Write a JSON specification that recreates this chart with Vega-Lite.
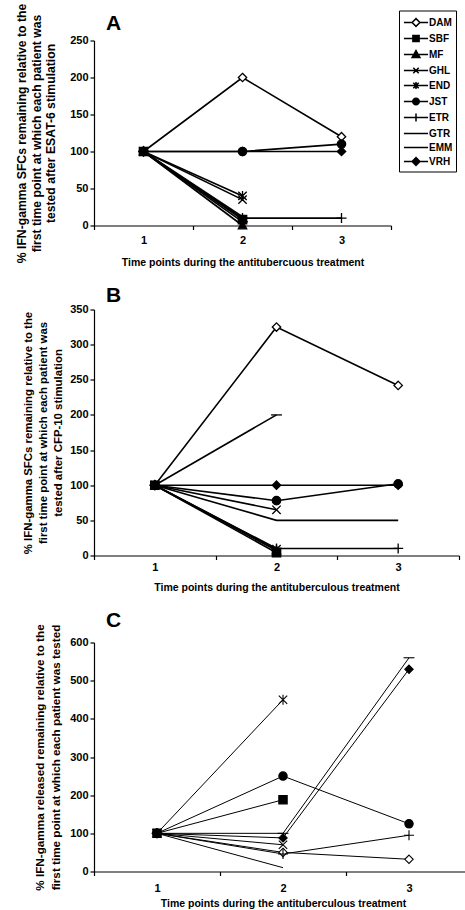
{
  "$schema": "https://vega.github.io/schema/vega-lite/v6.json",
  "padding": {"left": 15, "top": 2.5, "right": 0, "bottom": 0},
  "spacing": 16,
  "datasets": {
    "rows": [
      {"panel": "A", "series": "DAM", "t": 1, "v": 100}, {"panel": "A", "series": "DAM", "t": 2, "v": 200}, {"panel": "A", "series": "DAM", "t": 3, "v": 120},
      {"panel": "A", "series": "SBF", "t": 1, "v": 100}, {"panel": "A", "series": "SBF", "t": 2, "v": 8},
      {"panel": "A", "series": "MF", "t": 1, "v": 100}, {"panel": "A", "series": "MF", "t": 2, "v": 0},
      {"panel": "A", "series": "GHL", "t": 1, "v": 100}, {"panel": "A", "series": "GHL", "t": 2, "v": 35},
      {"panel": "A", "series": "END", "t": 1, "v": 100}, {"panel": "A", "series": "END", "t": 2, "v": 40},
      {"panel": "A", "series": "JST", "t": 1, "v": 100}, {"panel": "A", "series": "JST", "t": 2, "v": 100}, {"panel": "A", "series": "JST", "t": 3, "v": 110},
      {"panel": "A", "series": "ETR", "t": 1, "v": 100}, {"panel": "A", "series": "ETR", "t": 2, "v": 10}, {"panel": "A", "series": "ETR", "t": 3, "v": 10},
      {"panel": "A", "series": "GTR", "t": 1, "v": 100}, {"panel": "A", "series": "GTR", "t": 2, "v": 5},
      {"panel": "A", "series": "EMM", "t": 1, "v": 100}, {"panel": "A", "series": "EMM", "t": 2, "v": 12},
      {"panel": "A", "series": "VRH", "t": 1, "v": 100}, {"panel": "A", "series": "VRH", "t": 2, "v": 100}, {"panel": "A", "series": "VRH", "t": 3, "v": 100},

      {"panel": "B", "series": "DAM", "t": 1, "v": 100}, {"panel": "B", "series": "DAM", "t": 2, "v": 325}, {"panel": "B", "series": "DAM", "t": 3, "v": 242},
      {"panel": "B", "series": "SBF", "t": 1, "v": 100}, {"panel": "B", "series": "SBF", "t": 2, "v": 4},
      {"panel": "B", "series": "MF", "t": 1, "v": 100}, {"panel": "B", "series": "MF", "t": 2, "v": 7},
      {"panel": "B", "series": "GHL", "t": 1, "v": 100}, {"panel": "B", "series": "GHL", "t": 2, "v": 65},
      {"panel": "B", "series": "END", "t": 1, "v": 100}, {"panel": "B", "series": "END", "t": 2, "v": 9},
      {"panel": "B", "series": "JST", "t": 1, "v": 100}, {"panel": "B", "series": "JST", "t": 2, "v": 78}, {"panel": "B", "series": "JST", "t": 3, "v": 102},
      {"panel": "B", "series": "ETR", "t": 1, "v": 100}, {"panel": "B", "series": "ETR", "t": 2, "v": 10}, {"panel": "B", "series": "ETR", "t": 3, "v": 10},
      {"panel": "B", "series": "GTR", "t": 1, "v": 100}, {"panel": "B", "series": "GTR", "t": 2, "v": 200},
      {"panel": "B", "series": "EMM", "t": 1, "v": 100}, {"panel": "B", "series": "EMM", "t": 2, "v": 50}, {"panel": "B", "series": "EMM", "t": 3, "v": 50},
      {"panel": "B", "series": "VRH", "t": 1, "v": 100}, {"panel": "B", "series": "VRH", "t": 2, "v": 100}, {"panel": "B", "series": "VRH", "t": 3, "v": 100},

      {"panel": "C", "series": "DAM", "t": 1, "v": 100}, {"panel": "C", "series": "DAM", "t": 2, "v": 50}, {"panel": "C", "series": "DAM", "t": 3, "v": 32},
      {"panel": "C", "series": "SBF", "t": 1, "v": 100}, {"panel": "C", "series": "SBF", "t": 2, "v": 188},
      {"panel": "C", "series": "GHL", "t": 1, "v": 100}, {"panel": "C", "series": "GHL", "t": 2, "v": 70},
      {"panel": "C", "series": "END", "t": 1, "v": 100}, {"panel": "C", "series": "END", "t": 2, "v": 450},
      {"panel": "C", "series": "JST", "t": 1, "v": 100}, {"panel": "C", "series": "JST", "t": 2, "v": 250}, {"panel": "C", "series": "JST", "t": 3, "v": 125},
      {"panel": "C", "series": "ETR", "t": 1, "v": 100}, {"panel": "C", "series": "ETR", "t": 2, "v": 46}, {"panel": "C", "series": "ETR", "t": 3, "v": 95},
      {"panel": "C", "series": "GTR", "t": 1, "v": 100}, {"panel": "C", "series": "GTR", "t": 2, "v": 100}, {"panel": "C", "series": "GTR", "t": 3, "v": 560},
      {"panel": "C", "series": "EMM", "t": 1, "v": 100}, {"panel": "C", "series": "EMM", "t": 2, "v": 10},
      {"panel": "C", "series": "VRH", "t": 1, "v": 100}, {"panel": "C", "series": "VRH", "t": 2, "v": 88}, {"panel": "C", "series": "VRH", "t": 3, "v": 530}
    ]
  },
  "resolve": {"scale": {"shape": "independent", "fill": "independent"}},
  "vconcat": [
    {
      "width": 297,
      "height": 185,
      "title": {"text": "A", "anchor": "start", "frame": "group", "fontSize": 21, "fontWeight": "bold", "font": "Liberation Sans", "dx": 12, "offset": -30.5},
      "data": {"name": "rows"},
      "transform": [{"filter": "datum.panel === 'A'"}],
      "resolve": {"scale": {"shape": "independent"}},
      "encoding": {
        "x": {"field": "t", "type": "ordinal", "scale": {"type": "band", "paddingInner": 0, "paddingOuter": 0},
              "axis": {"title": "Time points during the antitubercuous treatment", "labelAngle": 0, "tickBand": "extent", "labelPadding": 5, "titlePadding": 12}},
        "y": {"field": "v", "type": "quantitative", "scale": {"domain": [0, 250], "nice": false},
              "axis": {"values": [0, 50, 100, 150, 200, 250], "tickCount": 6, "labelOverlap": false, "titlePadding": 12, "titleLineHeight": 14.5, "titleFontSize": 12.2,
                       "title": ["% IFN-gamma SFCs remaining relative to the", "first time point at which each patient was", "tested after ESAT-6 stimulation"]}}
      },
      "layer": [
        {
          "mark": {"type": "line", "color": "black", "strokeWidth": 1.6},
          "encoding": {"detail": {"field": "series"}}
        },
        {
          "mark": {"type": "point", "stroke": "black", "strokeWidth": 1.3, "opacity": 1, "fillOpacity": 1, "size": 70},
          "encoding": {
            "shape": {"field": "series", "type": "nominal", "legend": null,
              "scale": {"domain": ["DAM","SBF","MF","GHL","END","JST","ETR","GTR","EMM","VRH"],
                        "range": ["M0,-1L1,0L0,1L-1,0Z","M-1,-1H1V1H-1Z","M0,-1.1L1,0.8H-1Z","M-1,-1L1,1M-1,1L1,-1","M-1,-1L1,1M-1,1L1,-1M0,-1.2V1.2","circle","M-1.2,0H1.2M0,-1.2V1.2","M-1.3,0H1.3","M0,0","M0,-1L1,0L0,1L-1,0Z"]}},
            "fill": {"field": "series", "type": "nominal", "legend": null,
              "scale": {"domain": ["DAM","SBF","MF","GHL","END","JST","ETR","GTR","EMM","VRH"],
                        "range": ["white","black","black","black","black","black","black","black","black","black"]}}
          }
        },
        {
          "transform": [{"filter": "false"}],
          "mark": {"type": "point", "stroke": "black", "strokeWidth": 1.5, "opacity": 1, "filled": false},
          "encoding": {
            "shape": {"field": "series", "type": "nominal",
              "scale": {"domain": ["DAM","SBF","MF","GHL","END","JST","ETR","GTR","EMM","VRH"],
                        "range": [
                          "M-1.55,0H-0.5M0.5,0H1.55M0,-0.5L0.5,0L0,0.5L-0.5,0Z",
                          "M-1.55,0H1.55M-0.4,-0.4H0.4V0.4H-0.4ZM-0.4,-0.2H0.4M-0.4,0.2H0.4",
                          "M-1.55,0H1.55M0,-0.5L0.5,0.4H-0.5ZM-0.11,-0.3H0.11M-0.22,-0.1H0.22M-0.33,0.1H0.33M-0.44,0.3H0.44",
                          "M-1.55,0H1.55M-0.35,-0.35L0.35,0.35M-0.35,0.35L0.35,-0.35",
                          "M-1.55,0H1.55M-0.35,-0.35L0.35,0.35M-0.35,0.35L0.35,-0.35M0,-0.45V0.45",
                          "M-1.55,0H1.55M0.42,0A0.42,0.42,0,1,1,-0.42,0A0.42,0.42,0,1,1,0.42,0ZM-0.37,-0.2H0.37M-0.37,0.2H0.37M-0.23,-0.35H0.23M-0.23,0.35H0.23",
                          "M-1.55,0H1.55M0,-0.5V0.5",
                          "M-1.55,0H1.55M-0.3,0H0.3",
                          "M-1.55,0H1.55",
                          "M-1.55,0H1.55M0,-0.5L0.5,0L0,0.5L-0.5,0ZM-0.3,-0.2H0.3M-0.3,0.2H0.3M-0.15,-0.35H0.15M-0.15,0.35H0.15"
                        ]},
              "legend": {"title": null, "orient": "none", "legendX": 305, "legendY": -30, "strokeColor": "black", "padding": 3,
                         "symbolSize": 243, "symbolStrokeWidth": 1.5, "symbolStrokeColor": "black", "symbolOpacity": 1, "symbolOffset": 5,
                         "labelFont": "Liberation Sans", "labelFontWeight": "bold", "labelFontSize": 10, "labelColor": "black", "labelOffset": 4, "rowPadding": 0}}
          }
        }
      ]
    },
    {
      "width": 365,
      "height": 246,
      "title": {"text": "B", "anchor": "start", "frame": "group", "fontSize": 21, "fontWeight": "bold", "font": "Liberation Sans", "dx": 12, "offset": -2},
      "data": {"name": "rows"},
      "transform": [{"filter": "datum.panel === 'B'"}],
      "encoding": {
        "x": {"field": "t", "type": "ordinal", "scale": {"type": "band", "paddingInner": 0, "paddingOuter": 0},
              "axis": {"title": "Time points during the antituberculous treatment", "labelAngle": 0, "tickBand": "extent", "labelPadding": 2, "titlePadding": 10}},
        "y": {"field": "v", "type": "quantitative", "scale": {"domain": [0, 350], "nice": false},
              "axis": {"values": [0, 50, 100, 150, 200, 250, 300, 350], "tickCount": 8, "labelOverlap": false, "titlePadding": 6, "titleLineHeight": 15, "titleFontSize": 11.4,
                       "title": ["% IFN-gamma SFCs remaining relative to the", "first time point at which each patient was", "tested after CFP-10 stimulation"]}}
      },
      "layer": [
        {
          "mark": {"type": "line", "color": "black", "strokeWidth": 1.6},
          "encoding": {"detail": {"field": "series"}}
        },
        {
          "mark": {"type": "point", "stroke": "black", "strokeWidth": 1.3, "opacity": 1, "fillOpacity": 1, "size": 70},
          "encoding": {
            "shape": {"field": "series", "type": "nominal", "legend": null,
              "scale": {"domain": ["DAM","SBF","MF","GHL","END","JST","ETR","GTR","EMM","VRH"],
                        "range": ["M0,-1L1,0L0,1L-1,0Z","M-1,-1H1V1H-1Z","M0,-1.1L1,0.8H-1Z","M-1,-1L1,1M-1,1L1,-1","M-1,-1L1,1M-1,1L1,-1M0,-1.2V1.2","circle","M-1.2,0H1.2M0,-1.2V1.2","M-1.3,0H1.3","M0,0","M0,-1L1,0L0,1L-1,0Z"]}},
            "fill": {"field": "series", "type": "nominal", "legend": null,
              "scale": {"domain": ["DAM","SBF","MF","GHL","END","JST","ETR","GTR","EMM","VRH"],
                        "range": ["white","black","black","black","black","black","black","black","black","black"]}}
          }
        }
      ]
    },
    {
      "width": 378,
      "height": 229,
      "title": {"text": "C", "anchor": "start", "frame": "group", "fontSize": 21, "fontWeight": "bold", "font": "Liberation Sans", "dx": 12, "offset": -7.3},
      "data": {"name": "rows"},
      "transform": [{"filter": "datum.panel === 'C'"}],
      "encoding": {
        "x": {"field": "t", "type": "ordinal", "scale": {"type": "band", "paddingInner": 0, "paddingOuter": 0},
              "axis": {"title": "Time points during the antituberculous treatment", "labelAngle": 0, "tickBand": "extent", "labelPadding": 7, "titlePadding": 5}},
        "y": {"field": "v", "type": "quantitative", "scale": {"domain": [0, 600], "nice": false},
              "axis": {"values": [0, 100, 200, 300, 400, 500, 600], "tickCount": 7, "labelOverlap": false, "titlePadding": 8, "titleLineHeight": 16, "titleFontSize": 11.7,
                       "title": ["% IFN-gamma released remaining relative to the", "first time point at which each patient was tested"]}}
      },
      "layer": [
        {
          "mark": {"type": "line", "color": "black", "strokeWidth": 1},
          "encoding": {"detail": {"field": "series"}}
        },
        {
          "mark": {"type": "point", "stroke": "black", "strokeWidth": 1.1, "opacity": 1, "fillOpacity": 1, "size": 70},
          "encoding": {
            "shape": {"field": "series", "type": "nominal", "legend": null,
              "scale": {"domain": ["DAM","SBF","MF","GHL","END","JST","ETR","GTR","EMM","VRH"],
                        "range": ["M0,-1L1,0L0,1L-1,0Z","M-1,-1H1V1H-1Z","M0,-1.1L1,0.8H-1Z","M-1,-1L1,1M-1,1L1,-1","M-1,-1L1,1M-1,1L1,-1M0,-1.2V1.2","circle","M-1.2,0H1.2M0,-1.2V1.2","M-1.3,0H1.3","M0,0","M0,-1L1,0L0,1L-1,0Z"]}},
            "fill": {"field": "series", "type": "nominal", "legend": null,
              "scale": {"domain": ["DAM","SBF","MF","GHL","END","JST","ETR","GTR","EMM","VRH"],
                        "range": ["white","black","black","black","black","black","black","black","black","black"]}}
          }
        }
      ]
    }
  ],
  "config": {
    "view": {"stroke": null},
    "font": "Liberation Sans",
    "axis": {"domainColor": "black", "tickColor": "black", "labelColor": "black", "titleColor": "black",
             "labelFont": "Liberation Sans", "titleFont": "Liberation Sans", "labelFontWeight": "bold", "titleFontWeight": "bold",
             "labelFontSize": 11, "titleFontSize": 10.5, "grid": false, "tickSize": 4, "domainWidth": 1.2, "tickWidth": 1.2, "labelOverlap": false}
  }
}
